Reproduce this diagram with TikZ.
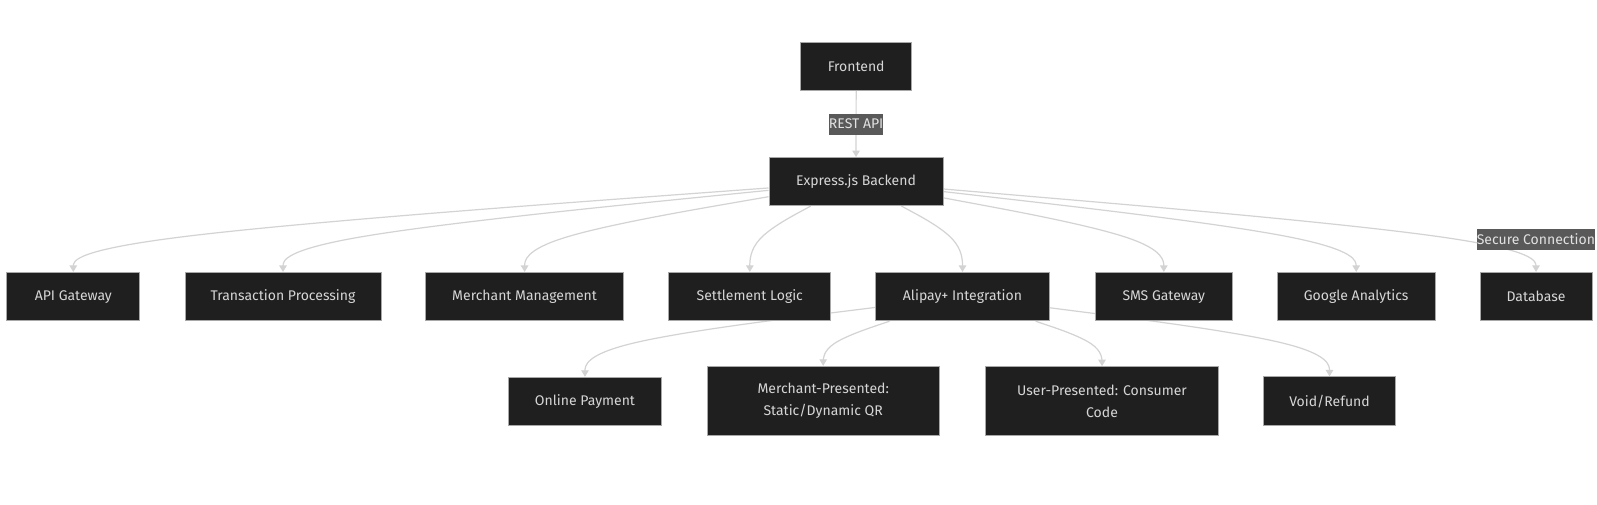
\documentclass[tikz,border=0pt]{standalone}
\usepackage{fontspec}
\setmainfont{Fira Sans}
\usetikzlibrary{calc,arrows.meta}
\definecolor{boxfill}{HTML}{1F1F1F}
\definecolor{boxline}{HTML}{A8A8A8}
\definecolor{boxtext}{HTML}{D6D6D6}
\definecolor{edgecol}{HTML}{D3D3D3}
\definecolor{lblfill}{HTML}{595959}
\definecolor{lbltext}{HTML}{E2E2E2}
\pgfdeclarelayer{whitebg}
\pgfdeclarelayer{edges}
\pgfsetlayers{whitebg,edges,main}
\tikzset{
  every node/.style={font=\fontsize{10.5pt}{16.5pt}\selectfont},
  box/.style={draw=boxline, line width=0.75pt, fill=boxfill, text=boxtext,
    inner sep=0pt, align=center, minimum height=36.2pt},
  lbl/.style={fill=lblfill, text=lbltext, inner sep=0pt, minimum height=15.9pt},
  edge/.style={draw=edgecol, line width=0.9pt,
    -{Triangle[width=5.6pt,length=4.9pt,fill=edgecol]}},
}
\newcommand\bedge[3]{%
  \path (#1) -- (#2) coordinate[pos=0] (bA);
  \path (#2) -- (#3) coordinate[pos=1] (bC);
  \coordinate (bM) at ($(bA)!0.5!(bC)$);
  \begin{pgfonlayer}{edges}
  \draw[edge] (bA) -- ($(bA)!1/6!(#2)$)
    .. controls ($(bA)!1/3!(#2)$) and ($(bA)!2/3!(#2)$) .. ($(#2)!1/3!(bM)$)
    .. controls ($(#2)!1/3!(bC)$) and ($(#2)!2/3!(bC)$) .. ($(#2)!5/6!(bC)$)
    -- (bC);
  \end{pgfonlayer}
}
\begin{document}
\begin{tikzpicture}[x=0.75pt,y=-0.75pt]
\begin{pgfonlayer}{whitebg}
\fill[white] (0,0) rectangle (1597,505);
\end{pgfonlayer}
\useasboundingbox (0,0) rectangle (1597,505);

% nodes
\node[box, minimum width=83.25pt, minimum height=36.3pt] (fe) at (856.2,66.5) {Frontend};
\node[box, minimum width=130.5pt, minimum height=36pt] (be) at (856,181.6) {Express.js Backend};

\node[box, minimum width=100pt]   (api) at (73.3,296.6)   {API Gateway};
\node[box, minimum width=147pt]   (tp)  at (283,296.6)    {Transaction Processing};
\node[box, minimum width=148.2pt] (mm)  at (524.6,296.6)  {Merchant Management};
\node[box, minimum width=121.3pt] (sl)  at (749.8,296.6)  {Settlement Logic};
\node[box, minimum width=130.2pt] (ali) at (962.5,296.6)  {Alipay+ Integration};
\node[box, minimum width=102.75pt](sms) at (1163.8,296.6) {SMS Gateway};
\node[box, minimum width=118.3pt] (ga)  at (1356.2,296.6) {Google Analytics};
\node[box, minimum width=84pt]    (db)  at (1536,296.6)   {Database};

\node[box, minimum width=115pt, minimum height=35.8pt]   (op) at (585,401.2)    {Online Payment};
\node[box, minimum width=173.8pt, minimum height=52pt]   (mp) at (823.2,401)    {Merchant-Presented:\\Static/Dynamic QR};
\node[box, minimum width=174.5pt, minimum height=51.75pt](up) at (1102,401.2)   {User-Presented: Consumer\\Code};
\node[box, minimum width=99.3pt, minimum height=36.5pt]  (vr) at (1329.5,401.3) {Void/Refund};

% intermediate points of the edges
\coordinate (k1) at (73.3,239);
\coordinate (k2) at (283,239);
\coordinate (k3) at (524.6,239);
\coordinate (k4) at (749.8,239);
\coordinate (k5) at (962.5,239);
\coordinate (k6) at (1163.8,239);
\coordinate (k7) at (1356.2,239);
\coordinate (k8) at (1536,239.4);
\coordinate (j1) at (585,343.6);
\coordinate (j2) at (823.2,343.6);
\coordinate (j3) at (1102,343.6);
\coordinate (j4) at (1329.5,343.6);

% edges
\begin{pgfonlayer}{edges}
\draw[edge] (fe) -- (be);
\end{pgfonlayer}
\bedge{be}{k1}{api}
\bedge{be}{k2}{tp}
\bedge{be}{k3}{mm}
\bedge{be}{k4}{sl}
\bedge{be}{k5}{ali}
\bedge{be}{k6}{sms}
\bedge{be}{k7}{ga}
\bedge{be}{k8}{db}
\bedge{ali}{j1}{op}
\bedge{ali}{j2}{mp}
\bedge{ali}{j3}{up}
\bedge{ali}{j4}{vr}

% edge labels
\node[lbl, minimum width=40.7pt] (rest) at ($(fe.south)!0.5!(be.north)$) {REST API};
\node[lbl, minimum width=88.7pt] (sec) at (1535.9,239.4) {Secure Connection};
\end{tikzpicture}
\end{document}
